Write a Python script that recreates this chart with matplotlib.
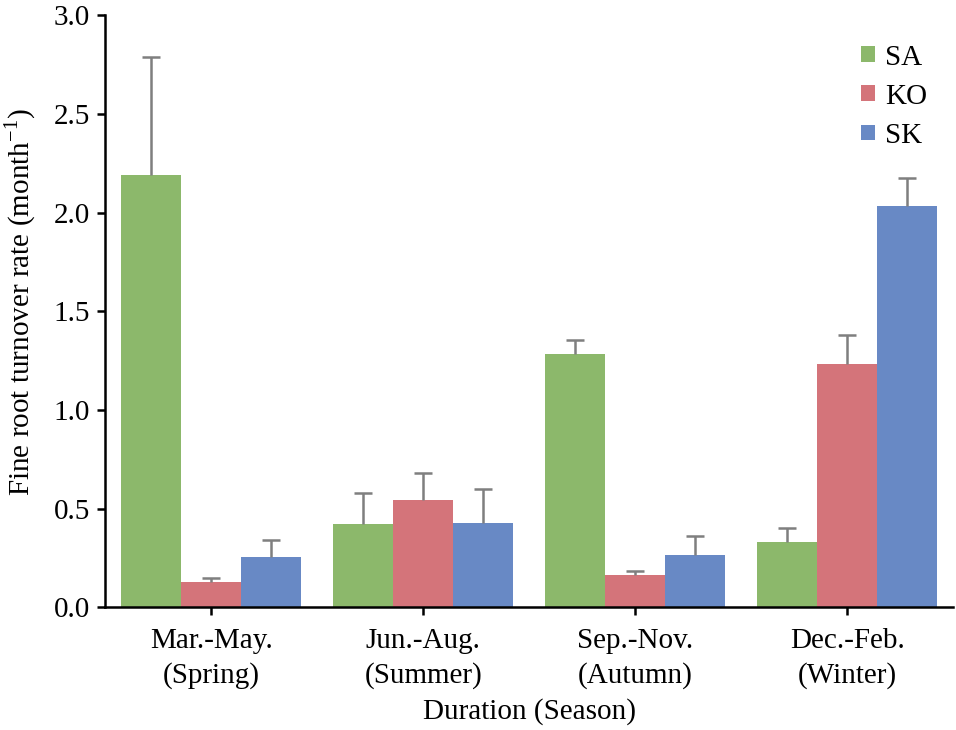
import numpy as np
import matplotlib
matplotlib.use('Agg')
import matplotlib.pyplot as plt

plt.rcParams['font.family'] = ['Liberation Serif', 'DejaVu Serif']

seasons = ['Mar.-May.\n(Spring)', 'Jun.-Aug.\n(Summer)', 'Sep.-Nov.\n(Autumn)', 'Dec.-Feb.\n(Winter)']
sites = ['SA', 'KO', 'SK']

sa = [2.19, 0.42, 1.285, 0.33]
ko = [0.13, 0.545, 0.165, 1.235]
sk = [0.255, 0.427, 0.264, 2.035]

sa_err = [0.60, 0.16, 0.07, 0.07]
ko_err = [0.02, 0.135, 0.02, 0.147]
sk_err = [0.085, 0.175, 0.10, 0.14]

colors = ['#8CB86B', '#D4747A', '#6889C5']

fig, ax = plt.subplots(figsize=(9.56, 7.30), dpi=100)
fig.subplots_adjust(left=0.110, right=0.997, bottom=0.168, top=0.979)

x = np.arange(len(seasons))
w = 0.283
for i, (vals, errs) in enumerate([(sa, sa_err), (ko, ko_err), (sk, sk_err)]):
    pos = x + (i - 1) * w
    vals = np.array(vals)
    errs = np.array(errs)
    ax.bar(pos, vals, width=w, color=colors[i], label=sites[i], zorder=2)
    # upper-only error bars, cap only on top
    ax.vlines(pos, vals, vals + errs, color='#7F7F7F', lw=1.8, zorder=3)
    ax.plot(pos, vals + errs, linestyle='none', marker='_', markersize=13,
            markeredgewidth=1.8, color='#7F7F7F', zorder=3)

ax.set_xlim(-0.5, 3.5)
ax.set_ylim(0, 3.0)
ax.set_yticks(np.arange(0, 3.01, 0.5))
ax.set_yticklabels(['%.1f' % v for v in np.arange(0, 3.01, 0.5)])
ax.set_xticks(x)
ax.set_xticklabels(seasons, linespacing=1.4)

for s in ['top', 'right']:
    ax.spines[s].set_visible(False)
for s in ['left', 'bottom']:
    ax.spines[s].set_linewidth(1.8)
    ax.spines[s].set_color('black')

ax.tick_params(axis='both', labelsize=21, width=1.8, length=6, direction='out', colors='black')
ax.tick_params(axis='x', pad=9)
ax.tick_params(axis='y', pad=5)

ax.set_ylabel('Fine root turnover rate (month$^{\\mathregular{-1}}$)', fontsize=21)
ax.yaxis.set_label_coords(-0.079, 0.515)
ax.set_xlabel('Duration (Season)', fontsize=21, labelpad=6)

ax.legend(loc='upper right', bbox_to_anchor=(1.0, 0.995), frameon=False, fontsize=21,
          handlelength=0.45, handleheight=0.45, handletextpad=0.35, labelspacing=0.45)

fig.savefig('out.png', dpi=100)
